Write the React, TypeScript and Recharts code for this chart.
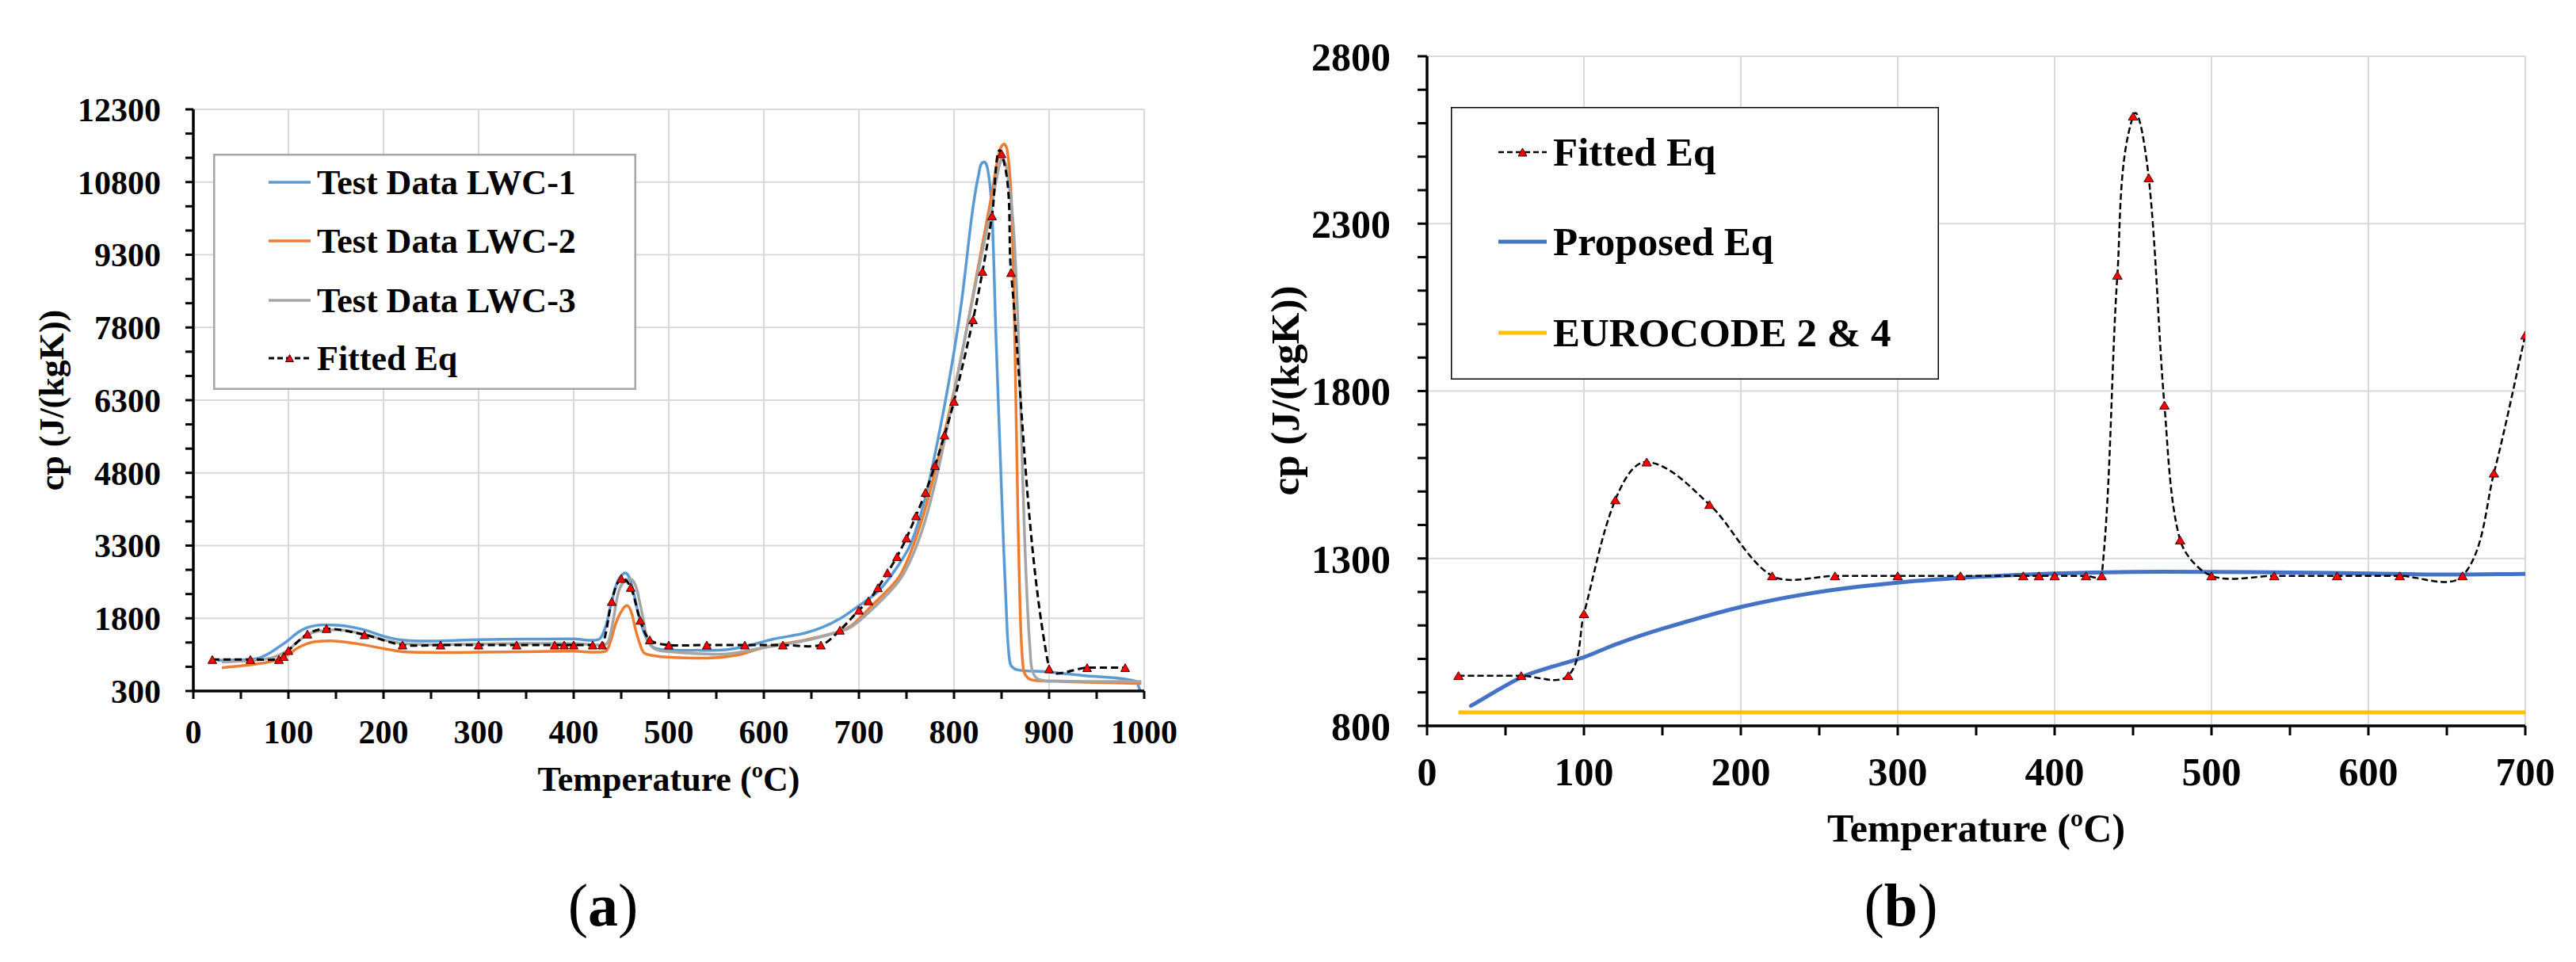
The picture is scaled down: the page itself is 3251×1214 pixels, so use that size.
import React from 'react';
import { LineChart, Line, XAxis, YAxis, CartesianGrid, Legend, Label } from 'recharts';

const FONT = '"Liberation Serif", "Times New Roman", Times, serif';

// ---------------- Chart (a) data ----------------
const xMajorA = [0, 100, 200, 300, 400, 500, 600, 700, 800, 900, 1000];
const xMinorA = [50, 150, 250, 350, 450, 550, 650, 750, 850, 950];
const yMajorA = [300, 1800, 3300, 4800, 6300, 7800, 9300, 10800, 12300];
const yMinorA = [800, 1300, 2300, 2800, 3800, 4300, 5300, 5800, 6800, 7300, 8300, 8800, 9800, 10300, 11300, 11800];

const lwc1: [number, number][] = [
  [25, 935], [60, 950], [70, 985], [80, 1080], [90, 1210], [100, 1350], [110, 1510], [120, 1610],
  [130, 1655], [140, 1665], [160, 1640], [180, 1560], [200, 1430], [220, 1350], [250, 1330],
  [300, 1360], [350, 1370], [400, 1375], [420, 1345], [428, 1390], [434, 1650], [440, 2150],
  [446, 2550], [451, 2700], [455, 2730], [459, 2620], [463, 2330], [468, 1900], [473, 1560],
  [478, 1330], [484, 1200], [495, 1150], [530, 1140], [560, 1150], [585, 1240], [610, 1370],
  [640, 1480], [660, 1600], [680, 1790], [700, 2060], [720, 2350], [740, 2850], [755, 3360],
  [770, 4300], [783, 5480], [797, 6950], [808, 8340], [819, 10140], [826, 10960], [831, 11210],
  [836, 11000], [840, 10140], [844, 7700], [850, 4420], [855, 1970], [859, 870], [866, 740],
  [895, 700], [935, 620], [990, 510], [996, 300],
];

const lwc2: [number, number][] = [
  [30, 780], [60, 840], [80, 900], [90, 960], [100, 1060], [110, 1190], [120, 1280], [130, 1320],
  [145, 1335], [160, 1310], [180, 1250], [200, 1175], [220, 1110], [250, 1095], [300, 1100],
  [350, 1110], [400, 1120], [433, 1115], [438, 1276], [444, 1680], [449, 1900], [456, 2061],
  [461, 1900], [465, 1573], [470, 1249], [474, 1087], [483, 1033], [502, 995], [540, 980],
  [572, 1040], [600, 1200], [640, 1340], [669, 1470], [690, 1620], [713, 2050], [741, 2620],
  [755, 3190], [769, 4010], [783, 5070], [797, 6220], [811, 7530], [825, 9000], [839, 10470],
  [847, 11370], [852, 11580], [856, 11450], [860, 10550], [863, 8500], [866, 5240], [869, 2380],
  [873, 740], [880, 540], [908, 500], [997, 455],
];

const lwc3: [number, number][] = [
  [30, 900], [60, 925], [80, 975], [90, 1040], [100, 1150], [110, 1320], [120, 1460], [130, 1530],
  [145, 1560], [160, 1550], [180, 1470], [200, 1360], [220, 1280], [250, 1255], [300, 1270],
  [350, 1280], [400, 1280], [430, 1250], [436, 1300], [441, 1700], [447, 2330], [453, 2560],
  [461, 2600], [466, 2420], [469, 2170], [473, 1800], [477, 1410], [485, 1170], [502, 1110],
  [558, 1060], [600, 1195], [641, 1330], [669, 1465], [690, 1600], [713, 1970], [741, 2540],
  [755, 3030], [769, 3770], [783, 4830], [797, 6140], [811, 7530], [825, 8920], [839, 10230],
  [850, 11290], [855, 11120], [863, 9730], [869, 6870], [874, 3600], [880, 1150], [886, 580],
  [908, 510], [997, 495],
];

const fittedA: [number, number][] = [
  [20, 950], [60, 950], [90, 950], [95, 1010], [100, 1135], [120, 1475], [140, 1588], [180, 1461],
  [220, 1248], [260, 1248], [300, 1248], [340, 1248], [380, 1248], [390, 1248], [400, 1248],
  [420, 1248], [430, 1248], [440, 2146], [450, 2621], [460, 2437], [470, 1758], [480, 1355],
  [500, 1248], [540, 1248], [580, 1248], [620, 1248], [660, 1248], [680, 1555], [700, 1967],
  [710, 2160], [720, 2430], [730, 2740], [740, 3070], [750, 3456], [760, 3913], [770, 4396],
  [780, 4951], [790, 5581], [800, 6276], [820, 7960], [830, 8958], [840, 10103], [850, 11385],
  [860, 8933], [900, 758], [940, 782], [980, 782],
];

// ---------------- Chart (b) data ----------------
const xMajorB = [0, 100, 200, 300, 400, 500, 600, 700];
const xMinorB = [50, 150, 250, 350, 450, 550, 650];
const yMajorB = [800, 1300, 1800, 2300, 2800];
const yMinorB = [900, 1000, 1100, 1200, 1400, 1500, 1600, 1700, 1900, 2000, 2100, 2200, 2400, 2500, 2600, 2700];

const fittedB: [number, number][] = [
  [20, 950], [60, 950], [90, 950], [100, 1135], [120, 1475], [140, 1588], [180, 1461], [220, 1248],
  [260, 1248], [300, 1248], [340, 1248], [380, 1248], [390, 1248], [400, 1248], [420, 1248],
  [430, 1248], [440, 2146], [450, 2621], [460, 2437], [470, 1758], [480, 1355], [500, 1248],
  [540, 1248], [580, 1248], [620, 1248], [660, 1248], [680, 1555], [700, 1967],
];

const proposedB: [number, number][] = [
  [28, 860], [60, 945], [80, 977], [100, 1005], [120, 1043], [150, 1090], [200, 1155], [250, 1200],
  [300, 1228], [350, 1245], [400, 1255], [450, 1260], [500, 1260], [550, 1258], [600, 1255],
  [650, 1252], [700, 1254],
];

const eurocodeB: [number, number][] = [
  [20, 840], [700, 840],
];

const legendA = [
  { name: 'Test Data LWC-1', color: '#5B9BD5', dashed: false },
  { name: 'Test Data LWC-2', color: '#ED7D31', dashed: false },
  { name: 'Test Data LWC-3', color: '#A5A5A5', dashed: false },
  { name: 'Fitted Eq', color: '#000000', dashed: true },
];

const legendB = [
  { name: 'Fitted Eq', color: '#000000', dashed: true },
  { name: 'Proposed Eq', color: '#4472C4', dashed: false },
  { name: 'EUROCODE 2 & 4', color: '#FFC000', dashed: false },
];

const toRows = (arr: [number, number][]) => arr.map(([t, v]) => ({ t, v }));

// Excel-like smoothing curve (Bezier with chord-scaled tangents)
const SMOOTH = 0.3;
function excelSmooth(context: any) {
  let pts: number[][] = [];
  return {
    areaStart() {},
    areaEnd() {},
    lineStart() {
      pts = [];
    },
    point(x: number, y: number) {
      pts.push([+x, +y]);
    },
    lineEnd() {
      const n = pts.length;
      if (!n) return;
      context.moveTo(pts[0][0], pts[0][1]);
      if (n === 1) return;
      if (n === 2) {
        context.lineTo(pts[1][0], pts[1][1]);
        return;
      }
      const tangent = (i: number) => {
        const a = pts[Math.max(0, i - 1)];
        const b = pts[Math.min(n - 1, i + 1)];
        const dx = b[0] - a[0];
        const dy = b[1] - a[1];
        const L = Math.hypot(dx, dy) || 1;
        return [dx / L, dy / L];
      };
      for (let i = 0; i < n - 1; i++) {
        const p1 = pts[i];
        const p2 = pts[i + 1];
        const seg = Math.hypot(p2[0] - p1[0], p2[1] - p1[1]);
        const t1 = tangent(i);
        const t2 = tangent(i + 1);
        const k = seg * SMOOTH;
        context.bezierCurveTo(
          p1[0] + t1[0] * k,
          p1[1] + t1[1] * k,
          p2[0] - t2[0] * k,
          p2[1] - t2[1] * k,
          p2[0],
          p2[1]
        );
      }
    },
  };
}

const makeTriangle = (w: number, h: number) => (props: any) => {
  const { cx, cy, index } = props;
  if (cx == null || cy == null || isNaN(cx) || isNaN(cy)) return <g key={`tri-${index}`} />;
  return (
    <polygon
      key={`tri-${index}`}
      points={`${cx},${cy - h / 2} ${cx - w / 2},${cy + h / 2} ${cx + w / 2},${cy + h / 2}`}
      fill="#FF0000"
      stroke="#3a0000"
      strokeWidth={1}
    />
  );
};

const fmt = (majors: number[]) => (v: number) => (majors.includes(v) ? String(v) : '');

function LegendBox(props: {
  items: { name: string; color: string; dashed: boolean }[];
  width: number;
  height: number;
  border: string;
  borderWidth: number;
  baselines: number[];
  sampleX1: number;
  sampleX2: number;
  textX: number;
  fontSize: number;
  lineWidth: number;
  dashWidth: number;
  dash: string;
  tri: [number, number];
  lift: number;
}) {
  const p = props;
  return (
    <svg width={p.width} height={p.height} style={{ display: 'block' }}>
      <rect
        x={p.borderWidth / 2}
        y={p.borderWidth / 2}
        width={p.width - p.borderWidth}
        height={p.height - p.borderWidth}
        fill="#FFFFFF"
        stroke={p.border}
        strokeWidth={p.borderWidth}
      />
      {p.items.map((it, i) => {
        const by = p.baselines[i];
        const ly = by - p.lift;
        const mx = (p.sampleX1 + p.sampleX2) / 2;
        return (
          <g key={it.name}>
            <line
              x1={p.sampleX1}
              x2={p.sampleX2}
              y1={ly}
              y2={ly}
              stroke={it.color}
              strokeWidth={it.dashed ? p.dashWidth : p.lineWidth}
              strokeDasharray={it.dashed ? p.dash : undefined}
            />
            {it.dashed ? (
              <polygon
                points={`${mx},${ly - p.tri[1] / 2} ${mx - p.tri[0] / 2},${ly + p.tri[1] / 2} ${mx + p.tri[0] / 2},${ly + p.tri[1] / 2}`}
                fill="#FF0000"
                stroke="#3a0000"
                strokeWidth={1}
              />
            ) : null}
            <text x={p.textX} y={by} fontFamily={FONT} fontWeight="bold" fontSize={p.fontSize} fill="#000">
              {it.name}
            </text>
          </g>
        );
      })}
    </svg>
  );
}

function ChartA() {
  const ticksX = [...xMajorA, ...xMinorA].sort((a, b) => a - b);
  const ticksY = [...yMajorA, ...yMinorA].sort((a, b) => a - b);
  const tickStyle = { fontSize: 42, fontFamily: FONT, fontWeight: 'bold', fill: '#000' };
  return (
    <LineChart width={1500} height={1214} margin={{ top: 138, right: 56, bottom: 282, left: 44 }}>
      <CartesianGrid
        stroke="#D9D9D9"
        strokeWidth={2}
        horizontalValues={yMajorA}
        verticalValues={xMajorA}
      />
      <XAxis
        type="number"
        dataKey="t"
        domain={[0, 1000]}
        ticks={ticksX}
        interval={0}
        allowDataOverflow
        tickFormatter={fmt(xMajorA)}
        height={60}
        tickSize={10}
        tickMargin={26}
        axisLine={{ stroke: '#000', strokeWidth: 3.5 }}
        tickLine={{ stroke: '#000', strokeWidth: 3 }}
        tick={tickStyle}
      >
        <Label
          content={() => (
            <text x={844} y={998} textAnchor="middle" fontFamily={FONT} fontWeight="bold" fontSize={44} fill="#000">
              Temperature (ºC)
            </text>
          )}
        />
      </XAxis>
      <YAxis
        type="number"
        domain={[300, 12300]}
        ticks={ticksY}
        interval={0}
        allowDataOverflow
        tickFormatter={fmt(yMajorA)}
        width={200}
        tickSize={10}
        tickMargin={31}
        axisLine={{ stroke: '#000', strokeWidth: 3.5 }}
        tickLine={{ stroke: '#000', strokeWidth: 3 }}
        tick={tickStyle}
      >
        <Label
          content={() => (
            <text
              x={80}
              y={505}
              transform="rotate(-90, 80, 505)"
              textAnchor="middle"
              fontFamily={FONT}
              fontWeight="bold"
              fontSize={44}
              fill="#000"
            >
              cp (J/(kgK))
            </text>
          )}
        />
      </YAxis>
      <Legend
        layout="vertical"
        align="center"
        verticalAlign="middle"
        width={534}
        height={298}
        wrapperStyle={{ left: 269, top: 194, width: 534, height: 298 }}
        content={() => (
          <LegendBox
            items={legendA}
            width={534}
            height={298}
            border="#A6A6A6"
            borderWidth={2.5}
            baselines={[51, 125, 200, 273]}
            sampleX1={70}
            sampleX2={123}
            textX={131}
            fontSize={44}
            lineWidth={3.5}
            dashWidth={3}
            dash="7 4"
            tri={[10, 9]}
            lift={15}
          />
        )}
      />
      <Line
        data={toRows(lwc1)}
        dataKey="v"
        name="Test Data LWC-1"
        stroke="#5B9BD5"
        strokeWidth={3.5}
        type={excelSmooth as any}
        dot={false}
        activeDot={false}
        isAnimationActive={false}
      />
      <Line
        data={toRows(lwc2)}
        dataKey="v"
        name="Test Data LWC-2"
        stroke="#ED7D31"
        strokeWidth={3.5}
        type={excelSmooth as any}
        dot={false}
        activeDot={false}
        isAnimationActive={false}
      />
      <Line
        data={toRows(lwc3)}
        dataKey="v"
        name="Test Data LWC-3"
        stroke="#A5A5A5"
        strokeWidth={3.5}
        type={excelSmooth as any}
        dot={false}
        activeDot={false}
        isAnimationActive={false}
      />
      <Line
        data={toRows(fittedA)}
        dataKey="v"
        name="Fitted Eq"
        stroke="#000000"
        strokeWidth={3}
        strokeDasharray="9 5"
        type={excelSmooth as any}
        dot={makeTriangle(11, 10)}
        activeDot={false}
        isAnimationActive={false}
      />
    </LineChart>
  );
}

function ChartB() {
  const ticksX = [...xMajorB, ...xMinorB].sort((a, b) => a - b);
  const ticksY = [...yMajorB, ...yMinorB].sort((a, b) => a - b);
  const tickStyle = { fontSize: 50, fontFamily: FONT, fontWeight: 'bold', fill: '#000' };
  return (
    <LineChart width={1711} height={1214} margin={{ top: 71, right: 64, bottom: 228, left: 61 }}>
      <CartesianGrid
        stroke="#D9D9D9"
        strokeWidth={2}
        horizontalValues={yMajorB}
        verticalValues={xMajorB}
      />
      <XAxis
        type="number"
        dataKey="t"
        domain={[0, 700]}
        ticks={ticksX}
        interval={0}
        allowDataOverflow
        tickFormatter={fmt(xMajorB)}
        height={70}
        tickSize={12}
        tickMargin={27}
        axisLine={{ stroke: '#000', strokeWidth: 3.5 }}
        tickLine={{ stroke: '#000', strokeWidth: 3 }}
        tick={tickStyle}
      >
        <Label
          content={() => (
            <text x={954} y={1062} textAnchor="middle" fontFamily={FONT} fontWeight="bold" fontSize={50} fill="#000">
              Temperature (ºC)
            </text>
          )}
        />
      </XAxis>
      <YAxis
        type="number"
        domain={[800, 2800]}
        ticks={ticksY}
        interval={0}
        allowDataOverflow
        tickFormatter={fmt(yMajorB)}
        width={200}
        tickSize={12}
        tickMargin={34}
        axisLine={{ stroke: '#000', strokeWidth: 3.5 }}
        tickLine={{ stroke: '#000', strokeWidth: 3 }}
        tick={tickStyle}
      >
        <Label
          content={() => (
            <text
              x={99}
              y={493}
              transform="rotate(-90, 99, 493)"
              textAnchor="middle"
              fontFamily={FONT}
              fontWeight="bold"
              fontSize={51}
              fill="#000"
            >
              cp (J/(kgK))
            </text>
          )}
        />
      </YAxis>
      <Legend
        layout="vertical"
        align="center"
        verticalAlign="middle"
        width={616}
        height={344}
        wrapperStyle={{ left: 1831 - 1540, top: 135, width: 616, height: 344 }}
        content={() => (
          <LegendBox
            items={legendB}
            width={616}
            height={344}
            border="#000000"
            borderWidth={1.5}
            baselines={[74, 187, 302]}
            sampleX1={60}
            sampleX2={121}
            textX={129}
            fontSize={51}
            lineWidth={5}
            dashWidth={2.5}
            dash="7 4"
            tri={[11, 10]}
            lift={17}
          />
        )}
      />
      <Line
        data={toRows(eurocodeB)}
        dataKey="v"
        name="EUROCODE 2 & 4"
        stroke="#FFC000"
        strokeWidth={5}
        type="linear"
        dot={false}
        activeDot={false}
        isAnimationActive={false}
      />
      <Line
        data={toRows(proposedB)}
        dataKey="v"
        name="Proposed Eq"
        stroke="#4472C4"
        strokeWidth={5}
        strokeLinecap="round"
        type={excelSmooth as any}
        dot={false}
        activeDot={false}
        isAnimationActive={false}
      />
      <Line
        data={toRows(fittedB)}
        dataKey="v"
        name="Fitted Eq"
        stroke="#000000"
        strokeWidth={2.5}
        strokeDasharray="8 4"
        type={excelSmooth as any}
        dot={makeTriangle(12, 10)}
        activeDot={false}
        isAnimationActive={false}
      />
    </LineChart>
  );
}

export default function App() {
  return (
    <div
      style={{
        position: 'absolute',
        left: 0,
        top: 0,
        width: 3251,
        height: 1214,
        background: '#FFFFFF',
        overflow: 'hidden',
      }}
    >
      <div style={{ position: 'absolute', left: 0, top: 0 }}>
        <ChartA />
      </div>
      <div style={{ position: 'absolute', left: 1540, top: 0 }}>
        <ChartB />
      </div>
      <svg
        width={3251}
        height={1214}
        style={{ position: 'absolute', left: 0, top: 0, pointerEvents: 'none' }}
      >
        <text x={761} y={1168} textAnchor="middle" fontFamily={FONT} fontSize={76} fill="#000">
          (<tspan fontWeight="bold">a</tspan>)
        </text>
        <text x={2399} y={1168} textAnchor="middle" fontFamily={FONT} fontSize={76} fill="#000">
          (<tspan fontWeight="bold">b</tspan>)
        </text>
      </svg>
    </div>
  );
}
